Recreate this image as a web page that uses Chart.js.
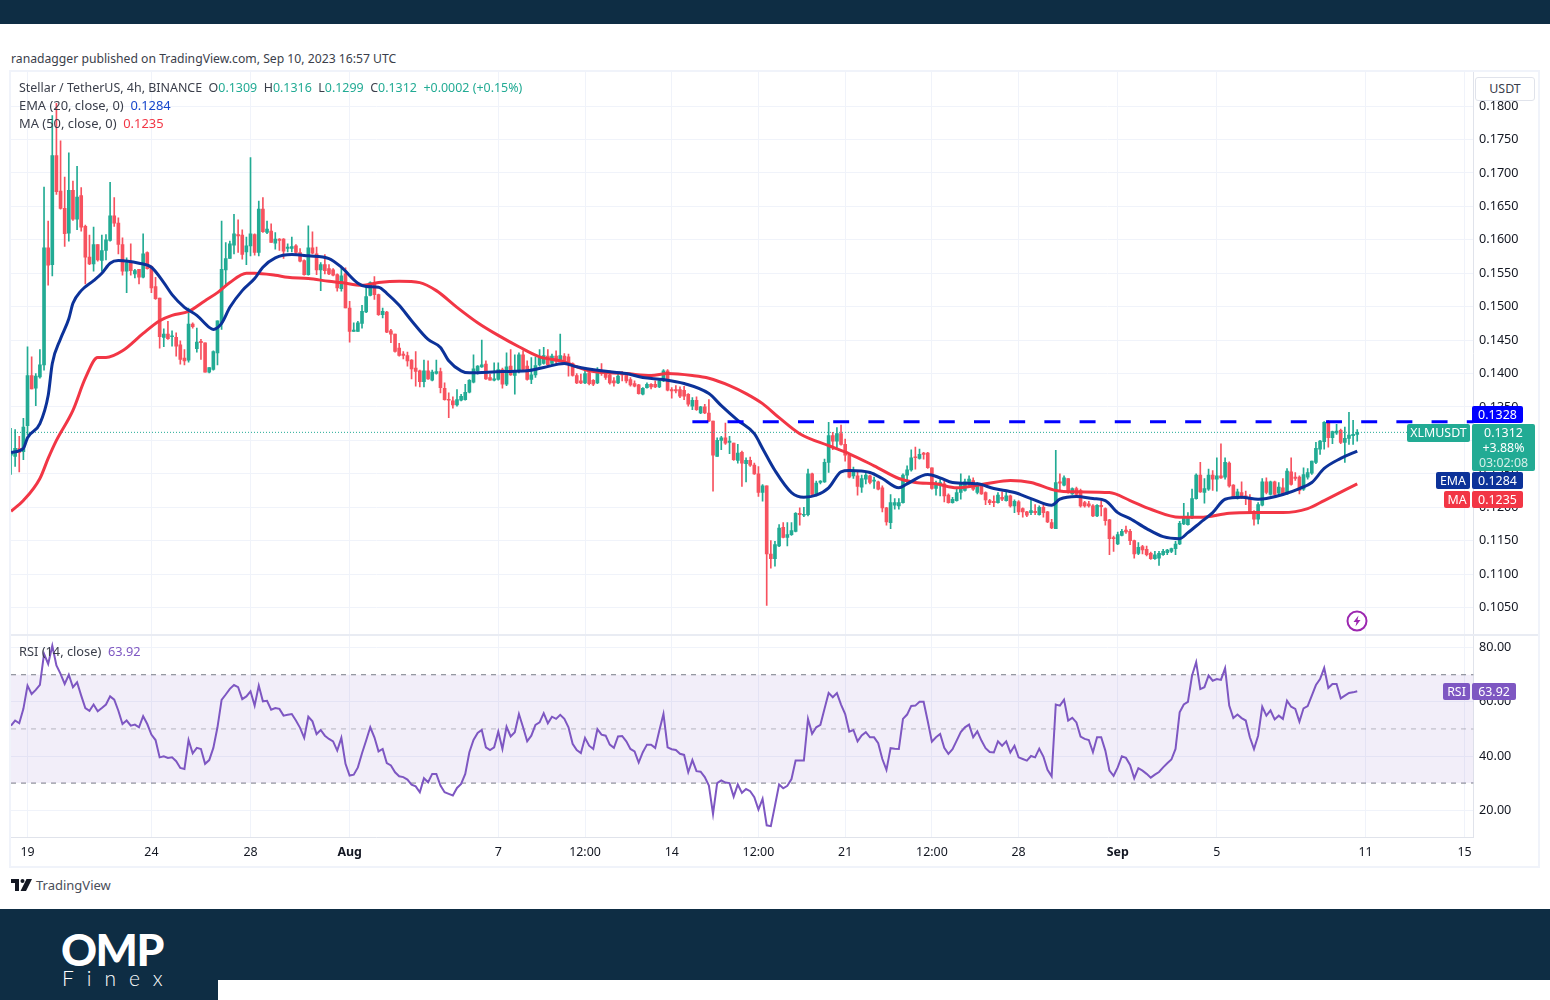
<!DOCTYPE html>
<html>
<head>
<meta charset="utf-8">
<title>XLMUSDT</title>
<script src="https://cdn.jsdelivr.net/npm/chart.js@4"></script>
<style>
  html, body { margin: 0; padding: 0; background: #fff; width: 1550px; height: 1000px; overflow: hidden; }
  body { position: relative; font-family: "Noto Sans", sans-serif; font-size: 12.4px; color: #3a3e4a; }
  canvas { position: absolute; }
  .abs { position: absolute; white-space: nowrap; }
  .bar { position: absolute; background: #0e2d44; }
  .up { color: #22ab94; }
  .tag { position: absolute; color: #fff; text-align: center; border-radius: 2px; line-height: 17px; height: 17px; }
</style>
</head>
<body>
<div class="bar" style="left:0;top:0;width:1550px;height:24px"></div>
<div class="bar" style="left:0;top:909px;width:1550px;height:71px"></div>
<div class="bar" style="left:0;top:980px;width:218px;height:20px"></div>
<div class="abs" style="left:61px;top:923px;font:900 44.5px/52px 'Lato',sans-serif;color:#fff;letter-spacing:-1.5px">OMP</div>
<div class="abs" style="left:62px;top:965px;font:300 21px/26px 'Lato',sans-serif;color:#fff;letter-spacing:13px">Finex</div>

<div class="abs" style="left:11px;top:50px;font-size:12.2px">ranadagger published on TradingView.com, Sep 10, 2023 16:57 UTC</div>

<div class="abs" style="left:9px;top:70px;width:1527px;height:794px;border:2px solid #f0f3fa"></div>
<canvas id="priceChart" width="1527" height="562" style="left:11px;top:72px"></canvas>
<div class="abs" style="left:11px;top:634px;width:1527px;height:2px;background:#e9ecf3"></div>
<canvas id="rsiChart" width="1527" height="230" style="left:11px;top:636px"></canvas>

<div class="abs" style="left:19px;top:79px;font-size:12.45px">Stellar / TetherUS, 4h, BINANCE &nbsp;O<span class="up">0.1309</span> &nbsp;H<span class="up">0.1316</span> &nbsp;L<span class="up">0.1299</span> &nbsp;C<span class="up">0.1312</span> &nbsp;<span class="up">+0.0002 (+0.15%)</span></div>
<div class="abs" style="left:19px;top:96px;font-size:12.9px">EMA (20, close, 0) &nbsp;<span style="color:#1848cc">0.1284</span></div>
<div class="abs" style="left:19px;top:114px;font-size:12.9px">MA (50, close, 0) &nbsp;<span style="color:#f23645">0.1235</span></div>
<div class="abs" style="left:19px;top:642px;font-size:12.8px">RSI (14, close) &nbsp;<span style="color:#7e57c2">63.92</span></div>

<div class="abs" style="left:1475px;top:77px;width:48px;height:22px;line-height:22px;text-align:center;background:#fff;border:1px solid #e0e3eb;border-radius:3px;padding:0 5px">USDT</div>

<div class="tag" style="left:1472px;top:406px;width:51px;background:#0000ff">0.1328</div>
<div class="tag" style="left:1407px;top:424px;width:63px;height:18px;background:#22ab94">XLMUSDT</div>
<div class="abs" style="left:1472px;top:424px;width:63px;background:#22ab94;color:#fff;text-align:center;border-radius:2px;line-height:15px;padding-top:1px;height:46px">0.1312<br>+3.88%<br><span style="color:#d4efe9">03:02:08</span></div>
<div class="tag" style="left:1436px;top:472px;width:34px;background:#0c3299">EMA</div>
<div class="tag" style="left:1472px;top:472px;width:51px;background:#0c3299">0.1284</div>
<div class="tag" style="left:1444px;top:491px;width:26px;background:#f23645">MA</div>
<div class="tag" style="left:1472px;top:491px;width:51px;background:#f23645">0.1235</div>
<div class="tag" style="left:1443px;top:683px;width:27px;background:#7e57c2">RSI</div>
<div class="tag" style="left:1472px;top:683px;width:44px;background:#7e57c2">63.92</div>

<svg class="abs" style="left:1346px;top:610px" width="22" height="22" viewBox="0 0 22 22">
  <circle cx="11" cy="11" r="9.5" fill="#fff" stroke="#9c27b0" stroke-width="2"/>
  <path d="M12.5 5.5 L7.5 12 L10.5 12 L9.5 16.5 L14.5 10 L11.5 10 Z" fill="#9c27b0"/>
</svg>

<svg class="abs" style="left:11px;top:879px" width="21" height="12" viewBox="0 0 21 12">
  <path d="M0 0 H8 V12 H4 V4 H0 Z M15.5 0 H21 L15 12 H9.5 Z" fill="#131722"/>
  <circle cx="11.5" cy="2" r="2" fill="#131722"/>
</svg>
<div class="abs" style="left:36px;top:876px;font-size:13px;color:#4a4e5a">TradingView</div>

<script>
// Prices are in ten-thousandths of USDT, one entry per 4h candle
const opens = [
  1278,1276,1288,1283,1322,1397,1378,1395,1413,1588,
  1563,1726,1673,1647,1610,1674,1631,1666,1620,1574,
  1564,1593,1569,1584,1599,1636,1625,1593,1553,1565,
  1549,1556,1544,1581,1560,1530,1513,1454,1459,1455,
  1454,1443,1423,1420,1474,1437,1448,1446,1402,1406,
  1431,1476,1555,1572,1592,1608,1607,1582,1591,1608,
  1581,1646,1611,1613,1595,1601,1601,1587,1587,1591,
  1581,1569,1548,1588,1579,1555,1563,1557,1555,1548,
  1527,1549,1498,1463,1463,1475,1492,1517,1536,1518,
  1488,1492,1464,1459,1438,1429,1427,1420,1408,1404,
  1388,1404,1390,1400,1403,1378,1361,1359,1353,1360,
  1361,1372,1387,1404,1410,1414,1394,1390,1391,1406,
  1384,1411,1397,1403,1428,1411,1391,1398,1413,1415,
  1426,1415,1426,1420,1426,1425,1415,1397,1389,1386,
  1401,1390,1386,1404,1401,1398,1389,1386,1400,1400,
  1391,1385,1383,1369,1379,1384,1384,1380,1389,1404,
  1376,1376,1376,1375,1369,1351,1360,1341,1350,1341,
  1329,1276,1300,1304,1297,1296,1270,1282,1265,1270,
  1263,1250,1222,1232,1130,1123,1142,1170,1155,1159,
  1164,1191,1188,1189,1250,1218,1237,1238,1267,1307,
  1299,1310,1294,1278,1247,1247,1230,1242,1247,1239,
  1238,1229,1199,1177,1203,1202,1207,1248,1256,1275,
  1273,1281,1281,1259,1228,1234,1235,1218,1207,1210,
  1222,1225,1237,1240,1222,1232,1222,1210,1209,1207,
  1215,1210,1217,1202,1208,1198,1193,1192,1194,1189,
  1200,1193,1177,1168,1238,1233,1243,1220,1228,1225,
  1207,1205,1202,1187,1203,1198,1181,1154,1145,1158,
  1166,1164,1150,1131,1141,1137,1131,1123,1124,1129,
  1132,1134,1138,1145,1175,1174,1184,1213,1248,1222,
  1227,1248,1242,1247,1245,1266,1233,1213,1222,1217,
  1214,1193,1182,1203,1238,1219,1238,1221,1229,1220,
  1253,1245,1245,1227,1245,1251,1267,1287,1298,1327,
  1304,1311,1315,1297,1303,1307,1309
];
const highs = [
  1318,1316,1306,1333,1440,1425,1400,1436,1679,1628,
  1786,1804,1748,1694,1730,1688,1710,1678,1622,1607,
  1619,1593,1607,1608,1686,1663,1633,1603,1573,1594,
  1556,1556,1609,1582,1561,1544,1513,1467,1478,1464,
  1461,1449,1436,1498,1476,1468,1451,1446,1409,1434,
  1479,1628,1596,1598,1638,1630,1615,1604,1723,1609,
  1658,1663,1628,1624,1611,1602,1602,1594,1604,1593,
  1587,1570,1621,1612,1589,1566,1578,1563,1557,1549,
  1558,1558,1508,1476,1478,1502,1531,1537,1545,1519,
  1498,1493,1466,1459,1445,1433,1432,1421,1433,1405,
  1420,1419,1405,1420,1408,1386,1371,1365,1376,1369,
  1384,1391,1428,1412,1450,1419,1399,1416,1416,1408,
  1431,1436,1428,1431,1434,1419,1424,1425,1436,1439,
  1436,1429,1434,1459,1430,1429,1416,1400,1399,1404,
  1404,1391,1409,1415,1404,1404,1394,1399,1403,1401,
  1394,1389,1384,1379,1386,1385,1389,1391,1406,1406,
  1379,1382,1380,1381,1370,1364,1365,1351,1354,1361,
  1329,1304,1306,1326,1306,1296,1294,1284,1274,1275,
  1266,1261,1234,1232,1150,1149,1174,1177,1177,1177,
  1192,1199,1200,1257,1251,1239,1240,1272,1327,1312,
  1319,1323,1302,1279,1260,1254,1248,1253,1248,1245,
  1239,1232,1200,1219,1213,1213,1250,1262,1286,1290,
  1287,1282,1282,1259,1239,1242,1240,1220,1215,1227,
  1250,1242,1247,1244,1237,1234,1223,1212,1217,1222,
  1223,1224,1218,1211,1210,1199,1194,1212,1204,1202,
  1204,1194,1182,1285,1250,1247,1243,1229,1230,1227,
  1209,1209,1204,1204,1210,1199,1182,1157,1163,1167,
  1172,1167,1151,1147,1143,1142,1133,1134,1134,1137,
  1137,1139,1149,1179,1206,1192,1227,1250,1267,1243,
  1257,1255,1274,1295,1274,1268,1234,1227,1238,1224,
  1219,1195,1207,1243,1244,1239,1239,1237,1243,1258,
  1274,1252,1247,1259,1258,1269,1297,1300,1328,1330,
  1314,1324,1317,1320,1342,1330,1316
];
const lows = [
  1249,1261,1253,1271,1308,1377,1352,1393,1405,1532,
  1546,1668,1646,1590,1598,1629,1615,1613,1534,1563,
  1553,1568,1553,1570,1598,1620,1579,1547,1521,1547,
  1543,1534,1543,1556,1521,1511,1438,1440,1451,1441,
  1426,1414,1413,1417,1468,1432,1421,1402,1401,1405,
  1413,1466,1533,1572,1579,1581,1571,1563,1576,1577,
  1576,1611,1609,1596,1586,1584,1572,1582,1582,1578,
  1567,1547,1547,1579,1548,1524,1549,1548,1546,1523,
  1523,1498,1447,1463,1463,1468,1491,1516,1511,1487,
  1483,1461,1446,1432,1426,1422,1411,1392,1381,1380,
  1380,1391,1389,1399,1371,1360,1334,1348,1351,1359,
  1360,1371,1386,1399,1409,1391,1390,1389,1390,1378,
  1382,1397,1369,1401,1404,1390,1385,1394,1411,1414,
  1411,1413,1415,1418,1414,1396,1396,1385,1385,1385,
  1383,1382,1385,1397,1391,1384,1381,1385,1389,1386,
  1381,1380,1369,1368,1378,1377,1379,1379,1388,1374,
  1363,1371,1364,1361,1351,1346,1345,1340,1340,1328,
  1224,1276,1286,1294,1280,1270,1266,1231,1238,1261,
  1249,1216,1209,1053,1109,1112,1141,1154,1142,1158,
  1163,1173,1186,1187,1218,1217,1235,1237,1252,1286,
  1287,1293,1269,1244,1243,1218,1222,1235,1235,1228,
  1226,1193,1173,1168,1197,1197,1206,1234,1254,1257,
  1272,1272,1258,1227,1218,1217,1208,1206,1206,1209,
  1212,1224,1232,1225,1220,1219,1204,1204,1201,1206,
  1210,1209,1200,1192,1189,1185,1186,1189,1189,1188,
  1185,1177,1168,1168,1224,1232,1221,1219,1217,1200,
  1200,1200,1186,1186,1187,1173,1129,1134,1144,1157,
  1161,1144,1124,1129,1130,1127,1122,1122,1113,1128,
  1129,1132,1129,1144,1174,1173,1183,1212,1222,1206,
  1225,1225,1224,1243,1242,1230,1214,1212,1213,1204,
  1192,1173,1175,1202,1220,1218,1218,1219,1218,1219,
  1233,1240,1220,1225,1242,1249,1265,1279,1287,1290,
  1295,1309,1295,1267,1294,1294,1299
];
const closes = [
  1283,1288,1282,1320,1397,1377,1396,1413,1588,1562,
  1726,1672,1647,1609,1674,1631,1664,1619,1574,1564,
  1593,1570,1584,1600,1636,1625,1593,1553,1566,1554,
  1554,1544,1579,1557,1528,1512,1455,1459,1452,1456,
  1441,1421,1419,1474,1470,1447,1446,1402,1409,1433,
  1479,1556,1572,1594,1609,1606,1578,1591,1609,1581,
  1646,1612,1616,1596,1601,1599,1583,1589,1590,1581,
  1568,1548,1588,1580,1555,1563,1554,1549,1547,1528,
  1546,1498,1463,1465,1476,1493,1515,1536,1518,1488,
  1493,1462,1459,1433,1427,1427,1419,1407,1403,1388,
  1404,1392,1402,1403,1379,1361,1360,1353,1361,1366,
  1372,1390,1407,1411,1413,1392,1390,1392,1406,1384,
  1410,1398,1403,1428,1406,1391,1398,1412,1423,1427,
  1413,1426,1418,1427,1419,1413,1397,1386,1386,1400,
  1385,1384,1406,1400,1394,1386,1386,1396,1398,1389,
  1383,1381,1370,1378,1384,1380,1380,1389,1404,1375,
  1374,1374,1366,1366,1354,1360,1346,1350,1341,1329,
  1278,1300,1304,1296,1299,1271,1281,1266,1270,1263,
  1250,1222,1232,1130,1123,1144,1169,1155,1159,1165,
  1191,1189,1189,1250,1219,1236,1239,1267,1307,1299,
  1310,1294,1278,1245,1253,1231,1243,1248,1237,1240,
  1227,1199,1178,1207,1207,1207,1248,1256,1274,1274,
  1279,1279,1259,1228,1234,1237,1217,1207,1212,1222,
  1237,1238,1242,1227,1234,1220,1211,1207,1207,1218,
  1212,1217,1202,1209,1193,1193,1188,1195,1192,1200,
  1192,1178,1169,1237,1236,1244,1222,1228,1219,1202,
  1202,1202,1187,1203,1201,1180,1153,1153,1159,1164,
  1163,1150,1130,1140,1136,1129,1123,1129,1131,1134,
  1136,1138,1145,1176,1184,1184,1213,1248,1223,1228,
  1248,1242,1247,1244,1267,1232,1215,1223,1215,1214,
  1193,1182,1204,1238,1222,1238,1219,1230,1219,1254,
  1234,1243,1225,1249,1252,1269,1288,1299,1327,1304,
  1313,1314,1297,1303,1308,1309,1312
];

const emaCandles = [0,3,4,7,9,10,12,14,15,17,20,22,24,26,31,34,37,39,42,45,48,49,51,53,56,59,61,64,68,72,77,80,84,86,89,91,94,97,101,104,106,109,111,119,125,129,134,137,143,149,153,158,163,169,172,176,180,182,185,189,192,195,198,201,203,208,211,215,217,222,225,228,234,238,243,247,252,254,258,262,265,268,271,275,279,283,285,288,291,294,298,302,304,308,312,315,318,322,326];
const emaValues = [1282,1288,1304,1325,1367,1415,1452,1482,1505,1524,1539,1550,1565,1569,1565,1559,1536,1518,1499,1487,1469,1466,1475,1499,1524,1542,1559,1573,1578,1576,1572,1559,1535,1530,1529,1520,1502,1479,1451,1439,1419,1404,1401,1403,1404,1409,1415,1410,1404,1400,1394,1391,1385,1370,1352,1330,1310,1288,1255,1222,1215,1218,1229,1253,1255,1252,1243,1229,1235,1249,1244,1237,1235,1228,1222,1213,1203,1212,1216,1213,1210,1192,1183,1168,1156,1153,1162,1177,1192,1212,1215,1212,1213,1219,1228,1237,1258,1273,1284];
const maCandles = [0,3,7,9,11,15,18,21,23,27,32,36,39,43,47,50,53,57,59,64,67,72,77,80,85,89,94,99,103,108,113,118,123,128,133,140,149,155,159,165,169,174,178,182,186,191,198,203,209,215,219,224,229,236,242,247,253,258,266,271,276,283,288,295,301,308,314,318,326];
const maValues = [1194,1210,1243,1273,1300,1345,1393,1424,1424,1434,1460,1479,1487,1493,1509,1521,1536,1550,1550,1547,1544,1542,1538,1536,1532,1536,1538,1536,1524,1499,1476,1457,1440,1425,1419,1404,1400,1397,1400,1397,1393,1382,1370,1355,1334,1310,1292,1280,1262,1243,1237,1235,1229,1235,1240,1237,1225,1223,1222,1210,1197,1185,1185,1191,1192,1192,1198,1210,1235];

const rsiValues = [
  51.2,53.1,52.1,57.4,66,62.9,64.4,66.3,77.7,74,
  80.7,73.4,70.3,66.6,70,65.4,67.2,62.3,57.7,56.7,
  59,56.5,57.7,59,62,60.8,56.7,51.8,53.1,51.2,
  51.6,50.6,54.7,51.8,47.9,45.9,39.5,39.9,39.3,39.5,
  38.1,35.6,35.2,45.9,41,43,42.6,37.1,38.5,43,
  50.6,60.7,62.7,64.8,66.2,65.4,61,62,63.9,58.6,
  66,60.2,60.4,57.1,57.7,57.4,54.9,55.2,55.5,53.1,
  50.4,46.7,54.5,52.8,48.1,49.6,47.5,46.3,45.4,42,
  46.7,37.1,32.8,33.1,35.8,41,45.7,50.6,46.9,41.7,
  42.6,37.4,36.5,34,32.5,32.2,31.3,29.4,28.8,26.6,
  31.8,30.3,33.4,33.4,29.1,26.6,26,25.4,28.2,29.7,
  33.4,41.4,45.9,48.5,49.6,43.2,42.2,43.2,49,42.6,
  50.8,47.2,48.8,55.5,50.6,45.4,47.5,51.5,52.4,55.8,
  52.1,54.5,53.7,55.2,53.7,50.6,44.5,42.2,41.1,46.7,
  43.8,42.6,49.9,47.9,47.5,44.2,43,47.2,47.4,45.4,
  42.6,41.7,37.6,41.4,44.2,44.2,43,49.4,55.5,43.2,
  42.5,42.2,40.8,40.4,34,38.5,34.4,34.2,32.2,29.1,
  18.6,30,31,30.2,30,25,29.5,26.4,27.8,27,
  24.8,20.2,24.2,14.4,14.1,21.7,29.5,28.1,29,31.5,
  38.3,38.3,38.3,53.7,48.2,50.6,51.5,57.4,63.3,61.7,
  63.2,59,55.5,49,49.6,45.4,47.6,48.8,46.9,46.9,
  44.7,38.9,34.9,42.9,42.7,42.6,53.7,55.3,58.5,58.6,
  60,60,52.8,45.3,46.9,48.1,43,40.8,42.5,45.7,
  48.8,50.6,51.6,46.9,49.1,45.7,42.9,41.5,41.3,45.4,
  43.8,45.4,41.3,43.8,39.5,38.9,38.3,40,39.5,42.7,
  39.8,34.9,32.5,59,58.6,60.8,53.1,54.1,52.4,47.2,
  46.3,45.9,41.4,46.9,46.9,42,34.6,32.7,35.8,39.9,
  39.3,36.7,31.8,35.5,34.6,33.4,32,33.1,34.1,35.8,
  37.3,38.7,42.6,56.1,59,60,69.7,74.6,64.7,65.4,
  69.7,67.8,68.4,68.1,72.4,58.6,54,55.3,54,53.1,
  46.9,42.6,47.5,58.2,54.9,56.8,53.5,54.9,53.7,60.4,
  58.2,57.4,52.7,57.6,58.4,62.3,66.2,68.4,72.5,65.1,
  66.6,66.6,61.3,62.3,63.3,63.5,63.92
];

const timeTickCandles = [4,34,58,82,118,139,160,181,202,223,244,268,292,328,352];
const timeTickLabels = ['19','24','28','Aug','7','12:00','14','12:00','21','12:00','28','Sep','5','11','15'];
const priceTicks = [1050,1100,1150,1200,1250,1300,1350,1400,1450,1500,1550,1600,1650,1700,1750,1800];
const rsiTicks = [20,40,60,80];

const resistance = 1328;
const lastPrice = 1312;
const resistanceStart = 165;

const UP = '#22ab94';
const DOWN = '#f7525f';
const GRID = '#f0f3fa';
const AXIS = '#e0e3eb';
const FONT = '"Noto Sans", sans-serif';
// candle slots the time axis spans
const X_MAX = 354.18;

const candleColors = closes.map((c, i) => (c >= opens[i] ? UP : DOWN));
const flatLine = (value, from) => [{ x: from, y: value }, { x: X_MAX, y: value }];
const fixedTicks = (values) => (scale) => { scale.ticks = values.map((value) => ({ value })); };
const noInteraction = { legend: { display: false }, tooltip: { enabled: false } };

function timeScale(showLabels) {
  return {
    type: 'linear',
    min: 0,
    max: X_MAX,
    offset: false,
    afterBuildTicks: fixedTicks(timeTickCandles),
    afterFit: (scale) => {
      scale.height = showLabels ? 29 : 0;
      // keep the labels from shrinking the plot area
      scale.paddingLeft = 0;
      scale.paddingRight = 0;
    },
    grid: { color: GRID, offset: false, drawTicks: false },
    border: { display: showLabels, color: AXIS },
    ticks: {
      display: showLabels,
      autoSkip: false,
      maxRotation: 0,
      padding: 8,
      color: '#131722',
      font: (ctx) => ({
        family: FONT,
        size: 12.4,
        weight: ['Aug', 'Sep'].includes(timeTickLabels[ctx.index]) ? 'bold' : 'normal'
      }),
      callback: (value, index) => timeTickLabels[index]
    }
  };
}

function valueScale(min, max, ticks, format) {
  return {
    position: 'right',
    min,
    max,
    afterBuildTicks: fixedTicks(ticks),
    afterFit: (scale) => {
      scale.width = 64.4;
      scale.paddingTop = 0;
      scale.paddingBottom = 0;
    },
    grid: { color: GRID, drawTicks: false },
    border: { color: AXIS },
    ticks: {
      padding: 5.5,
      color: '#131722',
      font: { family: FONT, size: 12.6 },
      callback: format
    }
  };
}

new Chart(document.getElementById('priceChart'), {
  type: 'bar',
  data: {
    datasets: [
      {
        label: 'wicks',
        order: 6,
        grouped: false,
        barThickness: 1,
        backgroundColor: candleColors,
        data: highs.map((h, i) => ({ x: i, y: [lows[i], h] }))
      },
      {
        label: 'bodies',
        order: 5,
        grouped: false,
        barThickness: 3,
        minBarLength: 1,
        backgroundColor: candleColors,
        data: opens.map((o, i) => ({ x: i, y: [o, closes[i]] }))
      },
      {
        type: 'line',
        label: 'last price',
        order: 4,
        borderColor: UP,
        borderWidth: 1,
        borderDash: [1, 2],
        pointRadius: 0,
        data: flatLine(lastPrice, 0)
      },
      {
        type: 'line',
        label: 'MA 50',
        order: 3,
        borderColor: '#f23645',
        borderWidth: 3,
        cubicInterpolationMode: 'monotone',
        pointRadius: 0,
        data: maCandles.map((x, i) => ({ x, y: maValues[i] }))
      },
      {
        type: 'line',
        label: 'EMA 20',
        order: 2,
        borderColor: '#0c3299',
        borderWidth: 3,
        cubicInterpolationMode: 'monotone',
        pointRadius: 0,
        data: emaCandles.map((x, i) => ({ x, y: emaValues[i] }))
      },
      {
        type: 'line',
        label: 'resistance',
        order: 1,
        borderColor: '#0000ff',
        borderWidth: 3,
        borderDash: [16, 19.2],
        pointRadius: 0,
        data: flatLine(resistance, resistanceStart)
      }
    ]
  },
  options: {
    responsive: false,
    animation: false,
    layout: { autoPadding: false, padding: 0 },
    plugins: noInteraction,
    scales: {
      x: timeScale(false),
      y: valueScale(1010.4, 1851, priceTicks, (v) => (v / 10000).toFixed(4))
    }
  }
});

new Chart(document.getElementById('rsiChart'), {
  type: 'line',
  data: {
    datasets: [
      {
        label: 'RSI',
        order: 1,
        borderColor: '#7e57c2',
        borderWidth: 2,
        pointRadius: 0,
        data: rsiValues.map((y, x) => ({ x, y }))
      },
      {
        label: 'upper band',
        order: 3,
        borderColor: '#787b86',
        borderWidth: 1,
        borderDash: [5, 5],
        pointRadius: 0,
        fill: '+1',
        backgroundColor: 'rgba(126,87,194,0.1)',
        data: flatLine(70, 0)
      },
      {
        label: 'lower band',
        order: 4,
        borderColor: '#787b86',
        borderWidth: 1,
        borderDash: [5, 5],
        pointRadius: 0,
        data: flatLine(30, 0)
      },
      {
        label: 'middle band',
        order: 2,
        borderColor: 'rgba(120,123,134,0.5)',
        borderWidth: 1,
        borderDash: [5, 5],
        pointRadius: 0,
        data: flatLine(50, 0)
      }
    ]
  },
  options: {
    responsive: false,
    animation: false,
    layout: { autoPadding: false, padding: 0 },
    plugins: noInteraction,
    scales: {
      x: timeScale(true),
      y: valueScale(10.1, 84.3, rsiTicks, (v) => v.toFixed(2))
    }
  }
});
</script>
</body>
</html>
